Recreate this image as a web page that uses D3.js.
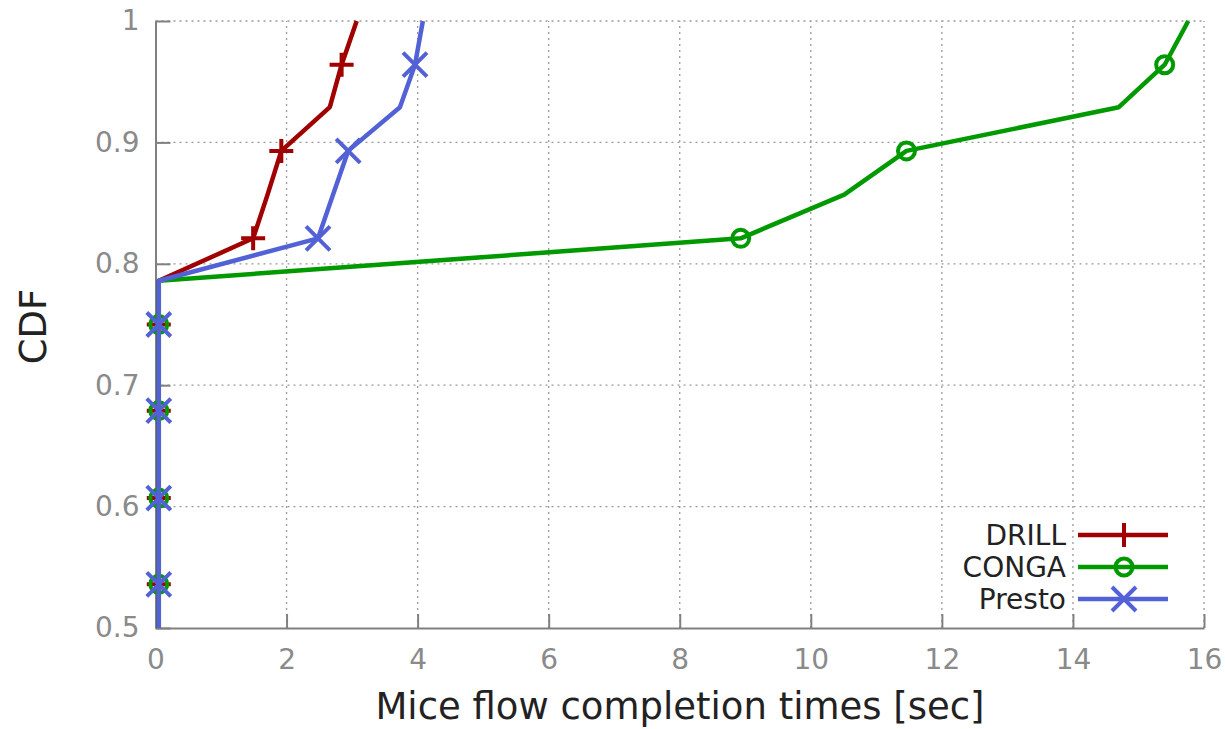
<!DOCTYPE html>
<html>
<head>
<meta charset="utf-8">
<script src="https://cdn.jsdelivr.net/npm/d3@7"></script>
<style>
  body { margin: 0; background: #fff; }
  text { font-family: 'DejaVu Sans', sans-serif; }
</style>
</head>
<body>
<div id="chart-area"></div>
<script>
// CDF levels (k/28) and completion times
const cdfLevels = [0.5, 0.536, 0.571, 0.607, 0.643, 0.679, 0.714, 0.75, 0.786, 0.821, 0.857, 0.893, 0.929, 0.964, 1.0];
const markerLevels = [0.536, 0.607, 0.679, 0.75, 0.821, 0.893, 0.964];
const drillTimes = [0.05, 0.05, 0.05, 0.05, 0.05, 0.05, 0.05, 0.05, 0.05, 1.49, 1.71, 1.92, 2.66, 2.84, 3.07];
const congaTimes = [0.05, 0.05, 0.05, 0.05, 0.05, 0.05, 0.05, 0.05, 0.05, 8.93, 10.51, 11.46, 14.7, 15.4, 15.76];
const prestoTimes = [0.05, 0.05, 0.05, 0.05, 0.05, 0.05, 0.05, 0.05, 0.05, 2.48, 2.71, 2.94, 3.73, 3.96, 4.08];
const seriesNames = ['DRILL', 'CONGA', 'Presto'];
const xTicks = [0, 2, 4, 6, 8, 10, 12, 14, 16];
const yTicks = [0.5, 0.6, 0.7, 0.8, 0.9, 1];

const width = 1225;
const height = 729;
const colors = { DRILL: '#a00000', CONGA: '#009a00', Presto: '#5262d6' };
const shapes = { DRILL: 'plus', CONGA: 'circle', Presto: 'cross' };

const series = [
  { name: 'DRILL', times: drillTimes },
  { name: 'CONGA', times: congaTimes },
  { name: 'Presto', times: prestoTimes },
];

let svg = d3
  .select('#chart-area')
  .append('svg')
  .attr('width', width)
  .attr('height', height);

let x = d3.scaleLinear().domain([0, 16]).range([155.5, 1204]);
let y = d3.scaleLinear().domain([0.5, 1]).range([628, 21]);

//dotted grid
let grid = svg.append('g').attr('stroke', '#9a9a9a').attr('stroke-width', 1.3).attr('stroke-dasharray', '2,4');
grid
  .selectAll('.vgrid')
  .data(xTicks.slice(1))
  .enter()
  .append('line')
  .attr('x1', (d) => x(d))
  .attr('x2', (d) => x(d))
  .attr('y1', y(0.5))
  .attr('y2', y(1));
grid
  .selectAll('.hgrid')
  .data(yTicks.slice(1))
  .enter()
  .append('line')
  .attr('x1', x(0))
  .attr('x2', x(16))
  .attr('y1', (d) => y(d))
  .attr('y2', (d) => y(d));

//axes, ticks point inward
let xAxis = svg
  .append('g')
  .attr('transform', `translate(0, ${y(0.5)})`)
  .call(d3.axisBottom(x).tickValues(xTicks).tickFormat((d) => d).tickSizeInner(-14).tickSizeOuter(0).tickPadding(21));
let yAxis = svg
  .append('g')
  .attr('transform', `translate(${x(0)}, 0)`)
  .call(d3.axisLeft(y).tickValues(yTicks).tickFormat((d) => d).tickSizeInner(-15).tickSizeOuter(0).tickPadding(16));

[xAxis, yAxis].forEach((a) => {
  a.select('.domain').attr('stroke', '#808080').attr('stroke-width', 2);
  a.selectAll('.tick line').attr('stroke', '#808080').attr('stroke-width', 2);
  a.selectAll('.tick text').attr('fill', '#8a8a8a').style('font-size', '28px').style('font-family', 'DejaVu Sans');
});

//axis titles
svg
  .append('text')
  .attr('transform', `translate(46, ${(y(0.5) + y(1)) / 2 + 2}) rotate(-90)`)
  .attr('text-anchor', 'middle')
  .style('font-size', '37px')
  .attr('fill', '#222')
  .text('CDF');
svg
  .append('text')
  .attr('x', 680)
  .attr('y', 719)
  .attr('text-anchor', 'middle')
  .style('font-size', '37px')
  .attr('fill', '#222')
  .text('Mice flow completion times [sec]');

function drawMarker(g, shape, color) {
  let s = 12;
  if (shape == 'plus') {
    g.append('path').attr('d', `M${-s},0H${s}M0,${-s}V${s}`);
  } else if (shape == 'cross') {
    g.append('path').attr('d', `M${-s},${-s}L${s},${s}M${-s},${s}L${s},${-s}`);
  } else {
    g.append('circle').attr('r', 8.5).attr('fill', 'none');
  }
  g.attr('stroke', color).attr('stroke-width', 4).attr('fill', 'none');
}

let line = d3
  .line()
  .x((d) => x(d[0]))
  .y((d) => y(d[1]));

series.forEach((s) => {
  let pts = s.times.map((t, i) => [t, cdfLevels[i]]);
  svg
    .append('path')
    .datum(pts)
    .attr('d', line)
    .attr('fill', 'none')
    .attr('stroke', colors[s.name])
    .attr('stroke-width', 4.5)
    .attr('stroke-linejoin', 'round');
  pts
    .filter((p) => markerLevels.includes(p[1]))
    .forEach((p) => {
      let g = svg.append('g').attr('transform', `translate(${x(p[0])}, ${y(p[1])})`);
      drawMarker(g, shapes[s.name], colors[s.name]);
    });
});

//legend
let legendItem = svg
  .selectAll('.legend')
  .data(seriesNames)
  .enter()
  .append('g')
  .attr('transform', (d, i) => `translate(0, ${535 + i * 32})`);
legendItem
  .append('text')
  .attr('x', 1066)
  .attr('text-anchor', 'end')
  .attr('dy', '0.36em')
  .style('font-size', '28px')
  .attr('fill', '#222')
  .text((d) => d);
legendItem
  .append('line')
  .attr('x1', 1078)
  .attr('x2', 1168)
  .attr('stroke', (d) => colors[d])
  .attr('stroke-width', 4.5);
legendItem.each(function (d) {
  let g = d3.select(this).append('g').attr('transform', 'translate(1124, 0)');
  drawMarker(g, shapes[d], colors[d]);
});
</script>
</body>
</html>
